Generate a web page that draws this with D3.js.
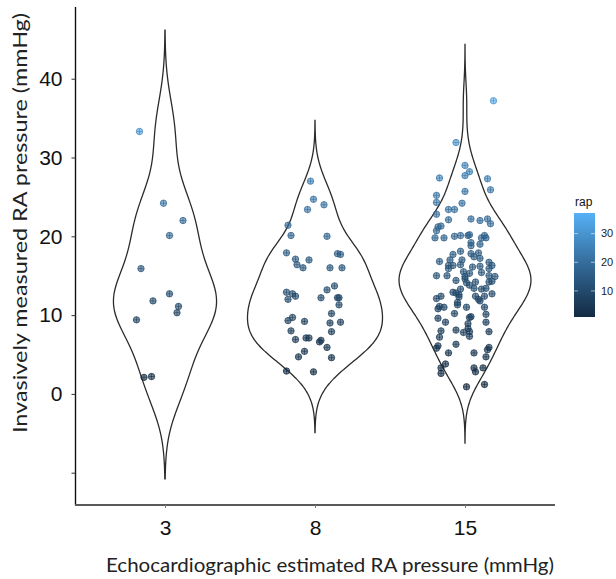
<!DOCTYPE html>
<html>
<head>
<meta charset="utf-8">
<script src="https://cdn.jsdelivr.net/npm/d3@7"></script>
<style>
  body { margin: 0; background: #fff; }
  svg { display: block; }
</style>
</head>
<body>
<svg id="chart"></svg>
<script>
// Layout of the picture
const WIDTH = 616;
const HEIGHT = 579;

// categories on the x axis (echo estimated RA pressure)
const categories = ['3', '8', '15'];

// invasively measured RA pressure (rap) per group,
// with the horizontal jitter of each point (in category-step units)
const rap3 = [33.3, 24.2, 22.0, 20.1, 15.9, 12.7, 11.8, 11.1, 10.3, 9.4, 2.1, 2.2];
const jitter3 = [-0.17, -0.01, 0.12, 0.03, -0.16, 0.03, -0.08, 0.09, 0.08, -0.19, -0.14, -0.09];

const rap8 = [27.0, 24.7, 23.4, 24.0, 21.4, 20.1, 20.0, 17.9, 17.1, 16.4, 16.0, 17.0, 17.8, 17.7, 16.0,
  16.0, 13.7, 13.2, 12.9, 12.7, 12.4, 12.0, 12.2, 12.2, 12.2, 11.3, 10.2, 9.3, 9.7, 9.2,
  9.0, 9.1, 8.0, 7.9, 6.9, 7.1, 7.1, 6.6, 6.8, 5.9, 5.4, 4.7, 4.6, 2.9, 2.8];
const jitter8 = [-0.03, -0.01, -0.05, 0.06, -0.18, -0.16, 0.08, -0.19, -0.13, -0.12, -0.08, -0.04, 0.15, 0.17, 0.10,
  0.18, 0.13, 0.08, -0.19, -0.15, -0.13, -0.18, 0.04, 0.15, 0.16, 0.16, 0.11, -0.18, -0.15, -0.07,
  0.10, 0.17, -0.16, 0.11, -0.13, -0.06, -0.04, 0.03, 0.04, 0.08, -0.07, -0.11, 0.11, -0.19, -0.01];

const rap15 = [37.2, 31.9, 29.0, 28.2, 27.7, 27.4, 27.3, 25.7, 25.9, 25.2, 24.3, 24.2, 23.4, 23.4, 22.8,
  22.1, 22.2, 22.0, 22.2, 21.6, 21.2, 21.3, 20.7, 19.8, 19.8, 20.0, 20.1, 20.1, 20.2, 19.8,
  20.1, 19.8, 19.2, 18.8, 19.0,
  18.1, 17.7, 17.8, 17.9, 16.8, 17.0, 17.0, 17.4, 17.2, 16.7, 16.3, 16.3, 16.4, 16.1, 16.2,
  16.3, 15.9, 15.9, 15.5, 15.3, 15.4, 15.0, 15.0, 14.9, 15.0, 14.9, 14.6, 14.4, 14.2, 14.2,
  14.3, 14.1, 13.8, 13.4, 13.3, 13.3, 13.4, 12.9, 12.8, 12.6, 12.4, 12.7, 12.4, 12.1, 12.4,
  12.0, 12.3, 11.6, 11.8, 11.3, 10.8, 11.1, 11.0, 11.0, 11.0, 10.2, 10.1, 9.6, 9.7, 9.8,
  9.1, 8.9, 9.1, 8.1, 8.3, 8.0, 7.8, 7.9, 7.3, 7.9, 7.2, 6.3, 6.1, 5.8, 5.9,
  5.6, 5.2, 5.2, 4.7, 3.8, 3.3, 2.6, 3.3, 3.3, 2.8, 0.9, 1.2];
const jitter15 = [0.19, -0.06, 0.00, 0.03, 0.00, -0.17, 0.15, 0.00, 0.17, -0.19, -0.19, -0.02, -0.11, -0.07, -0.19,
  -0.11, 0.04, 0.10, 0.15, 0.17, -0.18, -0.16, -0.19, -0.20, -0.14, -0.07, -0.03, 0.02, 0.03, 0.11,
  0.13, 0.14, 0.04, 0.04, 0.10,
  -0.03, -0.08, 0.04, 0.09, -0.17, -0.10, -0.02, 0.06, 0.10, 0.16, -0.11, -0.08, -0.03, 0.05, 0.10,
  0.18, -0.11, 0.16, -0.01, 0.03, 0.11, -0.19, -0.12, 0.00, 0.16, 0.20, 0.00, -0.06, 0.07, 0.16,
  0.18, 0.01, 0.03, 0.06, 0.11, -0.03, 0.14, -0.08, -0.06, -0.04, 0.07, 0.18, 0.13, -0.19, -0.16,
  0.09, -0.04, -0.05, 0.10, -0.05, -0.18, -0.17, -0.14, 0.01, 0.13, -0.07, 0.14, -0.18, 0.03, 0.04,
  -0.13, 0.02, 0.14, -0.06, 0.02, -0.16, -0.01, 0.03, 0.03, 0.16, -0.17, -0.06, -0.18, -0.19, 0.16,
  0.15, -0.11, 0.06, 0.14, -0.13, -0.16, -0.16, 0.06, 0.12, 0.07, 0.01, 0.13];

const yTicks = [-10, 0, 10, 20, 30, 40];
const legendTicks = [10, 20, 30];

const groups = [
  {cat: '3', rap: rap3, jitter: jitter3},
  {cat: '8', rap: rap8, jitter: jitter8},
  {cat: '15', rap: rap15, jitter: jitter15}
];

const svg = d3.select('#chart')
  .attr('width', WIDTH)
  .attr('height', HEIGHT)
  .attr('viewBox', `0 0 ${WIDTH} ${HEIGHT}`);

const x = d3.scalePoint()
  .domain(categories)
  .range([75, 555])
  .padding(0.6);

const y = d3.scaleLinear()
  .domain([-14.1, 49.1])
  .range([505, 7]);

const allRap = groups.flatMap(g => g.rap);
const color = d3.scaleLinear()
  .domain(d3.extent(allRap))
  .range(['#132B43', '#56B1F7'])
  .interpolate(d3.interpolateLab);

// gaussian kernel density, bandwidth like R's bw.nrd0, tails cut at 3 bw
function density(values) {
  const sorted = values.slice().sort(d3.ascending);
  const sd = d3.deviation(sorted);
  const iqr = (d3.quantile(sorted, 0.75) - d3.quantile(sorted, 0.25)) / 1.34;
  const bw = 0.9 * Math.min(sd, iqr) * Math.pow(sorted.length, -0.2);
  const lo = sorted[0] - 3 * bw;
  const hi = sorted[sorted.length - 1] + 3 * bw;
  const n = 256;
  const out = [];
  for (let i = 0; i <= n; i++) {
    const v = lo + (hi - lo) * i / n;
    const d = d3.mean(sorted, s => Math.exp(-0.5 * ((v - s) / bw) ** 2)) / (bw * Math.sqrt(2 * Math.PI));
    out.push([v, d]);
  }
  return out;
}

groups.forEach(g => { g.dens = density(g.rap); });
const maxDens = d3.max(groups, g => d3.max(g.dens, d => d[1]));
const halfWidth = d3.scaleLinear().domain([0, maxDens]).range([0, x.step() * 0.45]);

// violins
const violins = svg.append('g').attr('class', 'violins');
groups.forEach(g => {
  const cx = x(g.cat);
  const area = d3.area()
    .x0(d => cx - halfWidth(d[1]))
    .x1(d => cx + halfWidth(d[1]))
    .y(d => y(d[0]))
    .curve(d3.curveBasis);
  violins.append('path')
    .attr('d', area(g.dens))
    .attr('fill', 'none')
    .attr('stroke', '#2b2b2b')
    .attr('stroke-width', 1.3);
});

// jittered points, drawn as a circle with a cross inside
const pts = groups.flatMap(g => g.rap.map((v, i) => ({cat: g.cat, v, j: g.jitter[i]})));
const ptG = svg.append('g').attr('class', 'points')
  .selectAll('g')
  .data(pts)
  .enter()
  .append('g')
  .attr('transform', d => `translate(${x(d.cat) + d.j * x.step()},${y(d.v)})`);

ptG.append('circle')
  .attr('r', 3.2)
  .attr('fill', d => color(d.v))
  .attr('fill-opacity', 0.6)
  .attr('stroke', d => d3.color(color(d.v)).darker(0.6))
  .attr('stroke-width', 0.7);

ptG.append('path')
  .attr('d', 'M-3,0H3M0,-3V3')
  .attr('stroke', d => d3.color(color(d.v)).darker(0.7))
  .attr('stroke-width', 0.55);

// axes
const yAxis = svg.append('g')
  .attr('transform', 'translate(75.5,0)')
  .call(d3.axisLeft(y).tickValues(yTicks).tickSize(4).tickPadding(9)
    .tickFormat(d => d < 0 ? '' : d));
yAxis.select('.domain').attr('d', `M0,${y.range()[1]}V${y.range()[0]}`).attr('stroke', '#111').attr('stroke-width', 1.4);
yAxis.selectAll('.tick line').attr('stroke', '#333');
yAxis.selectAll('.tick text')
  .attr('font-family', '"Liberation Sans", Arial, sans-serif')
  .attr('font-size', 21)
  .attr('fill', '#111');

const xAxis = svg.append('g')
  .attr('transform', 'translate(0,505)')
  .call(d3.axisBottom(x).tickSize(3).tickPadding(12));
xAxis.select('.domain').attr('d', `M${x.range()[0]},0H${x.range()[1]}`).attr('stroke', '#5a5a5a').attr('stroke-width', 2);
xAxis.selectAll('.tick line').attr('stroke', '#777');
xAxis.selectAll('.tick text')
  .attr('font-family', '"Liberation Sans", Arial, sans-serif')
  .attr('font-size', 21)
  .attr('fill', '#111');

// axis titles
svg.append('text')
  .attr('x', 330)
  .attr('y', 572)
  .attr('text-anchor', 'middle')
  .attr('font-family', 'Lato, "Open Sans", sans-serif')
  .attr('font-size', 20)
  .attr('fill', '#222')
  .attr('textLength', 448)
  .attr('lengthAdjust', 'spacingAndGlyphs')
  .text('Echocardiographic estimated RA pressure (mmHg)');

svg.append('text')
  .attr('transform', 'translate(27,223) rotate(-90)')
  .attr('text-anchor', 'middle')
  .attr('font-family', 'Lato, "Open Sans", sans-serif')
  .attr('font-size', 20)
  .attr('fill', '#222')
  .attr('textLength', 420)
  .attr('lengthAdjust', 'spacingAndGlyphs')
  .text('Invasively measured RA pressure (mmHg)');

// colour bar legend
const legY = d3.scaleLinear().domain(color.domain()).range([317, 213]);
const defs = svg.append('defs');
const grad = defs.append('linearGradient')
  .attr('id', 'rapGrad')
  .attr('x1', 0).attr('y1', 1).attr('x2', 0).attr('y2', 0);
d3.range(0, 1.0001, 0.1).forEach(t => {
  grad.append('stop')
    .attr('offset', t)
    .attr('stop-color', color(color.domain()[0] + t * (color.domain()[1] - color.domain()[0])));
});

const legend = svg.append('g').attr('class', 'legend');
legend.append('text')
  .attr('x', 575)
  .attr('y', 206)
  .attr('font-family', '"Liberation Sans", Arial, sans-serif')
  .attr('font-size', 12)
  .attr('fill', '#111')
  .text('rap');
legend.append('rect')
  .attr('x', 574)
  .attr('y', legY.range()[1])
  .attr('width', 21)
  .attr('height', legY.range()[0] - legY.range()[1])
  .attr('fill', 'url(#rapGrad)');
legendTicks.forEach(t => {
  legend.append('path')
    .attr('d', `M574,${legY(t)}h4M591,${legY(t)}h4`)
    .attr('stroke', '#fff')
    .attr('stroke-opacity', 0.7)
    .attr('stroke-width', 0.8);
  legend.append('text')
    .attr('x', 601)
    .attr('y', legY(t))
    .attr('dy', '0.35em')
    .attr('font-family', '"Liberation Sans", Arial, sans-serif')
    .attr('font-size', 11)
    .attr('fill', '#222')
    .text(t);
});
</script>
</body>
</html>
